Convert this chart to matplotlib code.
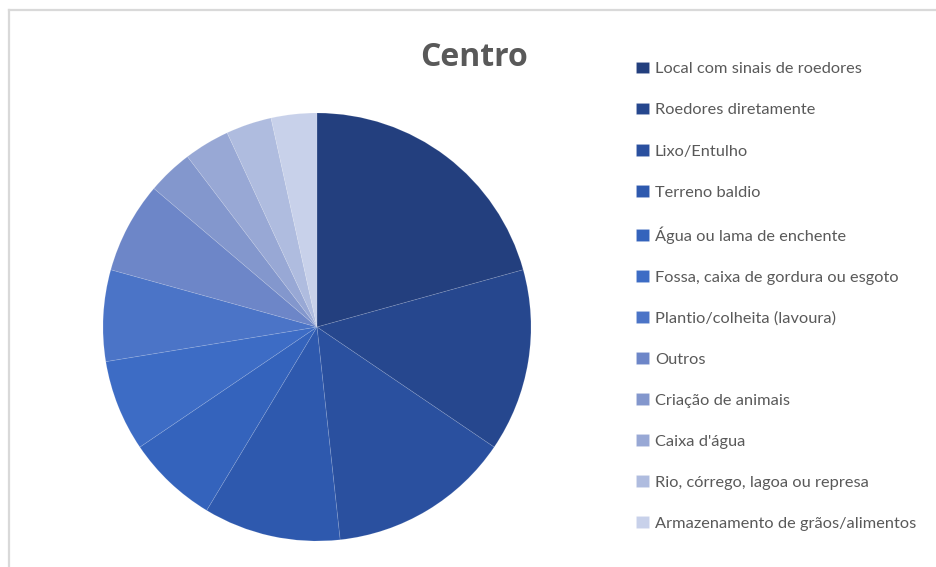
import matplotlib
matplotlib.use("Agg")
import matplotlib.pyplot as plt
from matplotlib.lines import Line2D

labels = [
    "Local com sinais de roedores",
    "Roedores diretamente",
    "Lixo/Entulho",
    "Terreno baldio",
    "Água ou lama de enchente",
    "Fossa, caixa de gordura ou esgoto",
    "Plantio/colheita (lavoura)",
    "Outros",
    "Criação de animais",
    "Caixa d'água",
    "Rio, córrego, lagoa ou represa",
    "Armazenamento de grãos/alimentos",
]
values = [6, 4, 4, 3, 2, 2, 2, 2, 1, 1, 1, 1]
colors = ["#233F7E", "#26478E", "#2A509F", "#2E59AE", "#3463BC", "#3D6CC5",
          "#4B74C7", "#6D86C8", "#8397CD", "#98A8D5", "#AFBCDF", "#C8D1EA"]

W, H = 937, 567
fig = plt.figure(figsize=(W / 100, H / 100), dpi=100)
fig.patch.set_facecolor("white")

# frame lines (top and left)
fig.add_artist(Line2D([9.5 / W, 1], [1 - 9.5 / H] * 2, color="#d9d9d9", lw=1.6))
fig.add_artist(Line2D([9.5 / W] * 2, [0, 1 - 9.5 / H], color="#d9d9d9", lw=1.6))

cx, cy, r = 317, 327, 214
ax = fig.add_axes([(cx - r) / W, 1 - (cy + r) / H, 2 * r / W, 2 * r / H])
wedges, _ = ax.pie(values, colors=colors, startangle=90, counterclock=False,
                   radius=1, wedgeprops=dict(edgecolor=(1, 1, 1, 0.12), linewidth=0.6))
ax.set_xlim(-1, 1)
ax.set_ylim(-1, 1)
ax.set_aspect("equal")
ax.axis("off")

fig.text(474 / W, 1 - 58 / H, "Centro", ha="center", va="center",
         fontsize=23, fontweight="bold", color="#595959", family="Open Sans")

leg = fig.legend(wedges, labels, loc="upper left",
                 bbox_to_anchor=(636 / W, 1 - 62 / H),
                 frameon=False,
                 handlelength=0.8, handleheight=0.7, handletextpad=0.35,
                 labelspacing=1.62, borderaxespad=0, borderpad=0,
                 prop=dict(family="Lato", size=11.8))
for t in leg.get_texts():
    t.set_color("#595959")

fig.savefig("out.png", dpi=100, facecolor="white")
